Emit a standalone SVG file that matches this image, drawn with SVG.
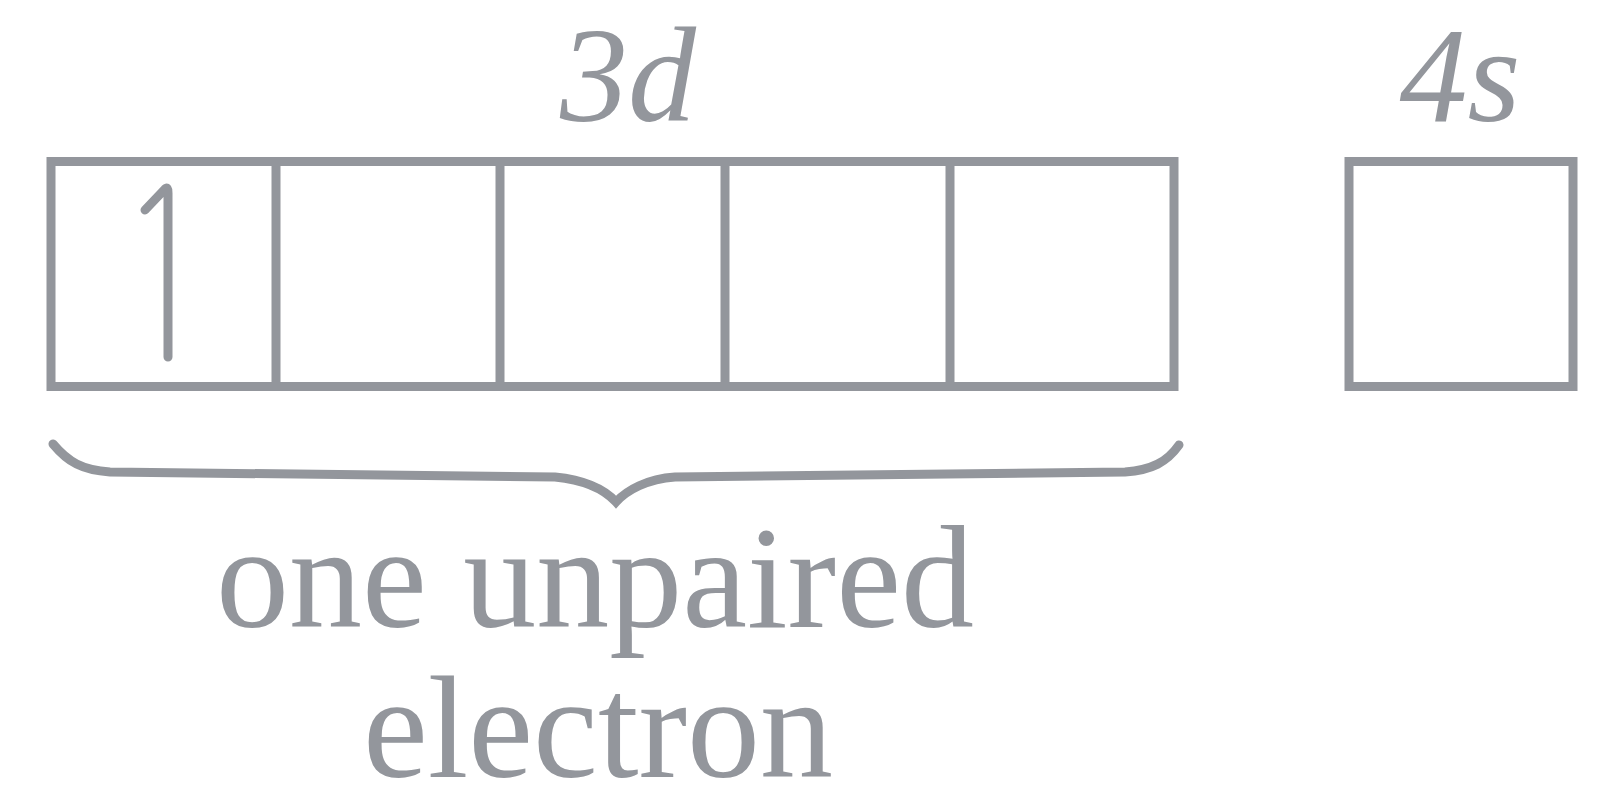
<svg xmlns="http://www.w3.org/2000/svg" width="1600" height="811" viewBox="0 0 1600 811">
  <style>
    .ln { fill: none; stroke: #93969c; stroke-width: 9; }
    .lbl { font-family: "Liberation Serif", "Times New Roman", serif; fill: #93969c; }
    .it { font-style: italic; font-size: 136px; }
    .cap { font-size: 146px; text-anchor: middle; }
  </style>
  <rect width="1600" height="811" fill="#ffffff"/>
  <g id="label-3d">
    <text class="lbl it" x="628" y="121" text-anchor="middle">3d</text>
  </g>
  <g id="label-4s">
    <text class="lbl it" x="1460" y="121" text-anchor="middle">4s</text>
  </g>
  <g id="orbitals-3d">
    <rect class="ln" x="51" y="161.5" width="1123" height="225"/>
    <line class="ln" x1="276" y1="161.5" x2="276" y2="386.5"/>
    <line class="ln" x1="500" y1="161.5" x2="500" y2="386.5"/>
    <line class="ln" x1="725" y1="161.5" x2="725" y2="386.5"/>
    <line class="ln" x1="950" y1="161.5" x2="950" y2="386.5"/>
  </g>
  <g id="electron-up">
    <path class="ln" d="M 145 210 L 165 189 Q 168 186 168 193 L 168 357" stroke-width="8" stroke-linecap="round" stroke-linejoin="round"/>
  </g>
  <g id="orbital-4s">
    <rect class="ln" x="1349" y="161.5" width="224" height="225"/>
  </g>
  <g id="connectors">
    <path class="ln" stroke-width="8" stroke-linecap="round" d="M 53 444 C 68 462, 82 470, 110 472 L 555 477 C 585 480, 605 490, 616 502 C 627 490, 647 479, 675 477 L 1125 472 C 1152 470, 1167 462, 1179 445"/>
  </g>
  <g id="caption">
    <text class="lbl cap" x="595" y="627">one unpaired</text>
    <text class="lbl cap" x="598" y="777">electron</text>
  </g>
</svg>
